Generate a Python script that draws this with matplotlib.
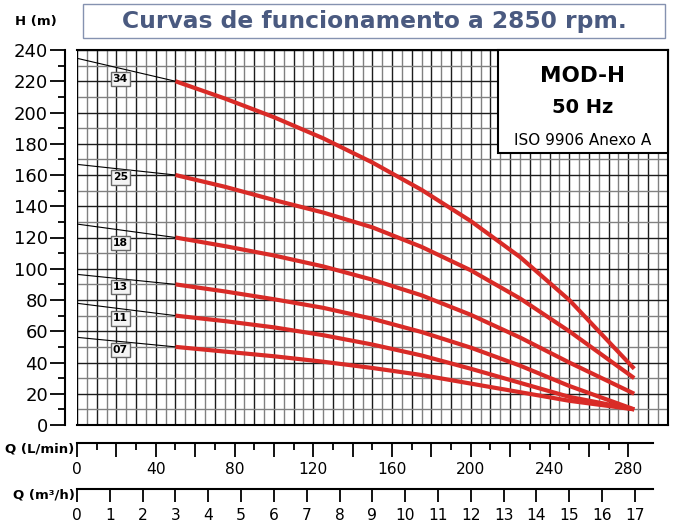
import numpy as np
import matplotlib
matplotlib.use("Agg")
import matplotlib.pyplot as plt
from matplotlib.patches import Rectangle
from matplotlib.ticker import FixedLocator

# ---------------- data ----------------
models = ["34", "25", "18", "13", "11", "07"]
label_q = 22
label_h = [221.5, 158.5, 116.5, 88.3, 68.2, 48.0]

# thin black part (Q in L/min, H in m)
q_black = [0, 50]
h_black_34 = [234.7, 220]
h_black_25 = [166.8, 160]
h_black_18 = [128.6, 120]
h_black_13 = [96.4, 90]
h_black_11 = [77.9, 70]
h_black_07 = [56.1, 50]

# red operating part
q_red = [50, 75, 100, 125, 150, 175, 200, 225, 250, 283]
h_red_34 = [220, 209, 197, 183.5, 168, 150.5, 130.5, 107.5, 80, 36]
h_red_25 = [160, 152.5, 144, 136, 126.5, 114, 99, 81, 60, 30]
h_red_18 = [120, 114.5, 108.5, 101.5, 93, 83, 70.5, 56, 40, 20]
h_red_13 = [90, 85.5, 80.5, 75, 68, 59.5, 49.5, 38, 25, 10]
h_red_11 = [70, 66.5, 62.5, 57.5, 51.5, 44.5, 36, 27, 18, 10]
h_red_07 = [50, 47, 44, 40.5, 36.5, 32, 26.5, 21, 15.5, 10]

h_black = [h_black_34, h_black_25, h_black_18, h_black_13, h_black_11, h_black_07]
h_red = [h_red_34, h_red_25, h_red_18, h_red_13, h_red_11, h_red_07]

lmin_ticks = list(range(0, 281, 20))
lmin_labels = [str(v) if v % 40 == 0 else "" for v in lmin_ticks]
m3h_ticks = list(range(0, 18))
y_ticks = list(range(0, 241, 20))

RED = "#d92b27"
W, H = 675, 523


def fx(x):
    return x / W


def fy(y):
    return 1 - y / H


fig = plt.figure(figsize=(W / 100, H / 100), dpi=100)

# ---------------- main grid axes ----------------
x0, x1, ytop, ybot = 77, 667.7, 50, 425
ax = fig.add_axes([fx(x0), fy(ybot), (x1 - x0) / W, (ybot - ytop) / H])
ax.set_xlim(0, 300)
ax.set_ylim(0, 240)
ax.set_xticks(np.arange(0, 301, 10))
ax.set_xticks(np.arange(5, 300, 10), minor=True)
ax.set_yticks(y_ticks)
ax.set_yticks(np.arange(10, 240, 20), minor=True)
ax.grid(which="major", color="#1c1c1c", lw=1.0, zorder=0)
ax.grid(which="minor", color="#808080", lw=1.0, zorder=0)
ax.set_axisbelow(True)
ax.tick_params(axis="x", which="both", bottom=False, labelbottom=False)
ax.tick_params(axis="y", which="major", length=10.8, width=1.3, pad=1.5,
               labelsize=13, direction="out")
ax.tick_params(axis="y", which="minor", length=5, width=1.3, direction="out")
ax.spines["left"].set_position(("outward", 8.6))
ax.spines["left"].set_linewidth(1.5)
for s in ["top", "right", "bottom"]:
    ax.spines[s].set_linewidth(1.5)
ax.axvline(0, color="black", lw=1.5, zorder=1)

for hb, hr in zip(h_black, h_red):
    ax.plot(q_black, hb, color="black", lw=0.8, zorder=3)
    ax.plot(q_red, hr, color=RED, lw=3.0, zorder=4, solid_capstyle="butt",
            solid_joinstyle="round")

for m, lh in zip(models, label_h):
    ax.text(label_q, lh, m, ha="center", va="center", fontsize=7.8,
            fontweight="bold", zorder=6,
            bbox=dict(boxstyle="square,pad=0.2", fc="#f4f4f4", ec="#6a6a6a", lw=1.0))

# MOD-H box (data coords)
bx0 = (497.7 - x0) / ((x1 - x0) / 300)
by0 = (ybot - 153.3) / ((ybot - ytop) / 240)
ax.add_patch(Rectangle((bx0, by0), 300 - bx0, 240 - by0, fc="white", ec="black",
                       lw=1.5, zorder=7, clip_on=False))
bxc = (bx0 + 300) / 2
ax.text(bxc, 223.4, "MOD-H", ha="center", va="center", fontsize=15.5,
        fontweight="bold", zorder=8)
ax.text(bxc, 203.5, "50 Hz", ha="center", va="center", fontsize=14,
        fontweight="bold", zorder=8)
ax.text(bxc, 181.8, "ISO 9906 Anexo A", ha="center", va="center", fontsize=11,
        zorder=8)

# ---------------- title ----------------
fig.add_artist(Rectangle((fx(83), fy(38)), (665 - 83) / W, 34 / H,
                         transform=fig.transFigure, fc="none", ec="#8592b0", lw=1.0))
fig.text(fx(374), fy(28.3), "Curvas de funcionamento a 2850 rpm.", ha="center",
         va="baseline", fontsize=16.8, fontweight="bold", color="#4a5a80")
fig.text(fx(15), fy(25), "H (m)", ha="left", va="baseline", fontsize=9.5,
         fontweight="bold")

# ---------------- Q (L/min) axis ----------------
axq = fig.add_axes([fx(x0), fy(443.3), (x1 - x0) / W, 0.0001])
axq.set_xlim(0, 300)
axq.patch.set_visible(False)
for s in ["top", "left", "right"]:
    axq.spines[s].set_visible(False)
axq.spines["bottom"].set_linewidth(1.5)
axq.spines["bottom"].set_bounds(0, 292.5)
axq.set_yticks([])
axq.xaxis.set_major_locator(FixedLocator(lmin_ticks))
axq.set_xticklabels(lmin_labels)
axq.set_xticks(np.arange(10, 280, 20), minor=True)
axq.tick_params(axis="x", which="major", length=10, width=1.3, pad=3.6,
                labelsize=11.2)
axq.tick_params(axis="x", which="minor", length=5, width=1.3)
fig.text(fx(74.5), fy(453), "Q (L/min)", ha="right", va="baseline", fontsize=9.5,
         fontweight="bold")

# ---------------- Q (m3/h) axis ----------------
axm = fig.add_axes([fx(x0), fy(489.3), (x1 - x0) / W, 0.0001])
axm.set_xlim(0, 300 / (1000 / 60))
axm.patch.set_visible(False)
for s in ["top", "left", "right"]:
    axm.spines[s].set_visible(False)
axm.spines["bottom"].set_linewidth(1.5)
axm.spines["bottom"].set_bounds(0, 292.5 / (1000 / 60))
axm.set_yticks([])
axm.set_xticks(m3h_ticks)
axm.set_xticklabels([str(v) for v in m3h_ticks])
axm.tick_params(axis="x", which="major", length=9, width=1.3, pad=4.3,
                labelsize=11.2)
fig.text(fx(75), fy(499), "Q (m³/h)", ha="right", va="baseline", fontsize=9.5,
         fontweight="bold")

fig.savefig("out.png", dpi=100)
